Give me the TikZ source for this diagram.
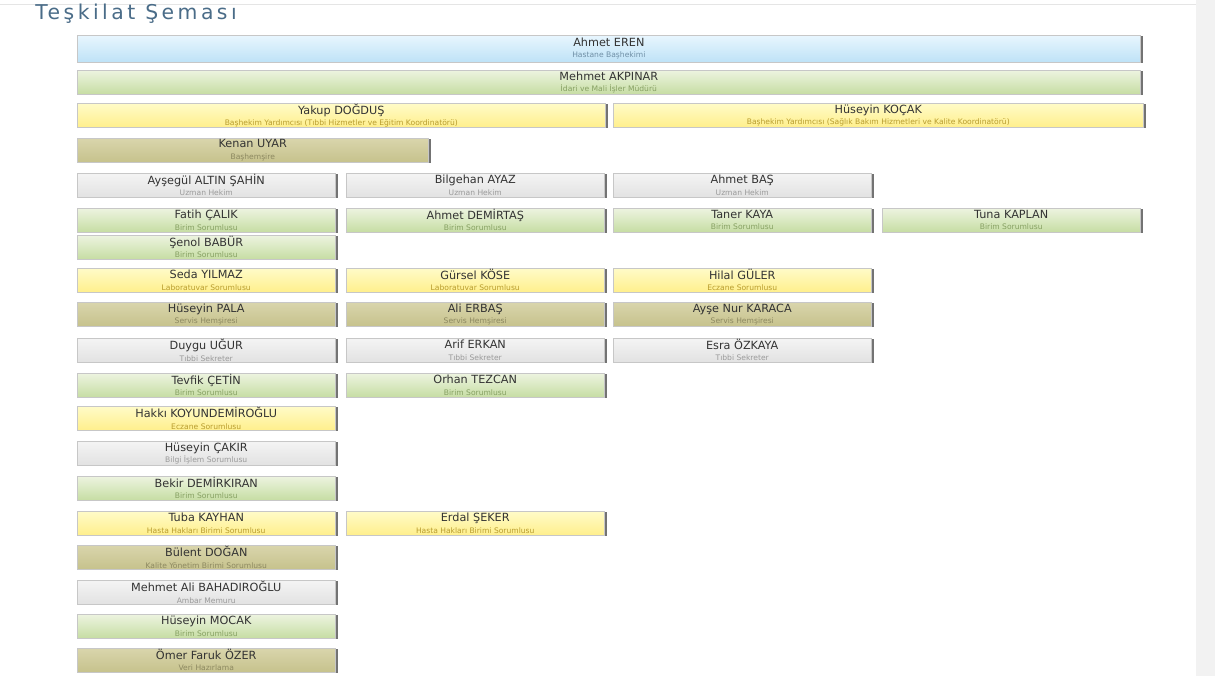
\documentclass[tikz,border=0pt]{standalone}
\usepackage{fontspec}
\setmainfont{DejaVu Sans}
\usepackage{xcolor}
\usepackage{tikz}
\usetikzlibrary{math,shadows}

\definecolor{maviA}{HTML}{E8F6FE}
\definecolor{maviB}{HTML}{BEE2F7}
\definecolor{maviY}{HTML}{6F8FA6}
\definecolor{yesilA}{HTML}{EDF4E0}
\definecolor{yesilB}{HTML}{C6DDA3}
\definecolor{yesilY}{HTML}{86A062}
\definecolor{sariA}{HTML}{FFFBC8}
\definecolor{sariB}{HTML}{FFEF8C}
\definecolor{sariY}{HTML}{B89C2E}
\definecolor{zeytinA}{HTML}{D9D5AC}
\definecolor{zeytinB}{HTML}{C6C28C}
\definecolor{zeytinY}{HTML}{8C8860}
\definecolor{griA}{HTML}{F4F4F4}
\definecolor{griB}{HTML}{E2E2E2}
\definecolor{griY}{HTML}{9A9A9A}
\definecolor{isimrenk}{HTML}{333333}
\definecolor{baslikrenk}{HTML}{4A6C88}

\newcommand\kisi[2]{\textcolor{isimrenk}{#1}\\[-1pt]{\fontsize{5.4}{6}\selectfont #2}}

\begin{document}
\begin{tikzpicture}[x=0.025cm,y=-0.025cm,
	kutu/.style={draw=black!22,line width=0.3pt,anchor=north west,
		minimum width=6.45cm,minimum height=0.6cm,inner sep=0pt,align=center,
		font=\fontsize{8}{9}\selectfont,
		general shadow={shadow xshift=1.6pt,shadow yshift=-0.8pt,fill=black!55}},
	mavi/.style={kutu,top color=maviA,bottom color=maviB,text=maviY},
	yesil/.style={kutu,top color=yesilA,bottom color=yesilB,text=yesilY},
	sari/.style={kutu,top color=sariA,bottom color=sariB,text=sariY},
	zeytin/.style={kutu,top color=zeytinA,bottom color=zeytinB,text=zeytinY},
	gri/.style={kutu,top color=griA,bottom color=griB,text=griY}]
\useasboundingbox (0,0) rectangle (1215,676);
\fill[white] (0,0) rectangle (1215,676);
\fill[black!5] (1196,0) rectangle (1215,676);
\draw[black!10] (0,4) -- (1196,4);
\tikzmath{
	\cA = 77;\cB = 346;\cC = 613;\cD = 882;
	{\node[anchor=base west,inner sep=0pt,text=baslikrenk,font=\fontsize{14.5}{16}\selectfont\addfontfeatures{LetterSpace=17}] (baslik) at (35,20) {Teşkilat Şeması};};
	%
	{\node[mavi,minimum width=26.575cm,minimum height=0.675cm] (eren) at (\cA,35) {\kisi{Ahmet EREN}{Hastane Başhekimi}};};
	{\node[yesil,minimum width=26.575cm] (akpinar) at (\cA,70) {\kisi{Mehmet AKPINAR}{İdari ve Mali İşler Müdürü}};};
	{\node[sari,minimum width=13.2cm] (dogdus) at (\cA,103) {\kisi{Yakup DOĞDUŞ}{Başhekim Yardımcısı (Tıbbi Hizmetler ve Eğitim Koordinatörü)}};};
	{\node[sari,minimum width=13.25cm] (kocak) at (\cC,103) {\kisi{Hüseyin KOÇAK}{Başhekim Yardımcısı (Sağlık Bakım Hizmetleri ve Kalite Koordinatörü)}};};
	{\node[zeytin,minimum width=8.775cm] (uyar) at (\cA,138) {\kisi{Kenan UYAR}{Başhemşire}};};
	%
	{\node[gri] (altin) at (\cA,173) {\kisi{Ayşegül ALTIN ŞAHİN}{Uzman Hekim}};};
	{\node[gri] (ayaz) at (\cB,173) {\kisi{Bilgehan AYAZ}{Uzman Hekim}};};
	{\node[gri] (bas) at (\cC,173) {\kisi{Ahmet BAŞ}{Uzman Hekim}};};
	%
	{\node[yesil] (calik) at (\cA,208) {\kisi{Fatih ÇALIK}{Birim Sorumlusu}};};
	{\node[yesil] (demirtas) at (\cB,208) {\kisi{Ahmet DEMİRTAŞ}{Birim Sorumlusu}};};
	{\node[yesil] (kaya) at (\cC,208) {\kisi{Taner KAYA}{Birim Sorumlusu}};};
	{\node[yesil] (kaplan) at (\cD,208) {\kisi{Tuna KAPLAN}{Birim Sorumlusu}};};
	{\node[yesil] (babur) at (\cA,235) {\kisi{Şenol BABÜR}{Birim Sorumlusu}};};
	%
	{\node[sari] (yilmaz) at (\cA,268) {\kisi{Seda YILMAZ}{Laboratuvar Sorumlusu}};};
	{\node[sari] (kose) at (\cB,268) {\kisi{Gürsel KÖSE}{Laboratuvar Sorumlusu}};};
	{\node[sari] (guler) at (\cC,268) {\kisi{Hilal GÜLER}{Eczane Sorumlusu}};};
	%
	{\node[zeytin] (pala) at (\cA,302) {\kisi{Hüseyin PALA}{Servis Hemşiresi}};};
	{\node[zeytin] (erbas) at (\cB,302) {\kisi{Ali ERBAŞ}{Servis Hemşiresi}};};
	{\node[zeytin] (karaca) at (\cC,302) {\kisi{Ayşe Nur KARACA}{Servis Hemşiresi}};};
	%
	{\node[gri] (ugur) at (\cA,338) {\kisi{Duygu UĞUR}{Tıbbi Sekreter}};};
	{\node[gri] (erkan) at (\cB,338) {\kisi{Arif ERKAN}{Tıbbi Sekreter}};};
	{\node[gri] (ozkaya) at (\cC,338) {\kisi{Esra ÖZKAYA}{Tıbbi Sekreter}};};
	%
	{\node[yesil] (cetin) at (\cA,373) {\kisi{Tevfik ÇETİN}{Birim Sorumlusu}};};
	{\node[yesil] (tezcan) at (\cB,373) {\kisi{Orhan TEZCAN}{Birim Sorumlusu}};};
	{\node[sari] (koyun) at (\cA,406) {\kisi{Hakkı KOYUNDEMİROĞLU}{Eczane Sorumlusu}};};
	{\node[gri] (cakir) at (\cA,441) {\kisi{Hüseyin ÇAKIR}{Bilgi İşlem Sorumlusu}};};
	{\node[yesil] (demirkiran) at (\cA,476) {\kisi{Bekir DEMİRKIRAN}{Birim Sorumlusu}};};
	%
	{\node[sari] (kayhan) at (\cA,511) {\kisi{Tuba KAYHAN}{Hasta Hakları Birimi Sorumlusu}};};
	{\node[sari] (seker) at (\cB,511) {\kisi{Erdal ŞEKER}{Hasta Hakları Birimi Sorumlusu}};};
	{\node[zeytin] (dogan) at (\cA,545) {\kisi{Bülent DOĞAN}{Kalite Yönetim Birimi Sorumlusu}};};
	{\node[gri] (bahadir) at (\cA,580) {\kisi{Mehmet Ali BAHADIROĞLU}{Ambar Memuru}};};
	{\node[yesil] (mocak) at (\cA,614) {\kisi{Hüseyin MOCAK}{Birim Sorumlusu}};};
	{\node[zeytin] (ozer) at (\cA,648) {\kisi{Ömer Faruk ÖZER}{Veri Hazırlama}};};
};
\end{tikzpicture}
\end{document}
